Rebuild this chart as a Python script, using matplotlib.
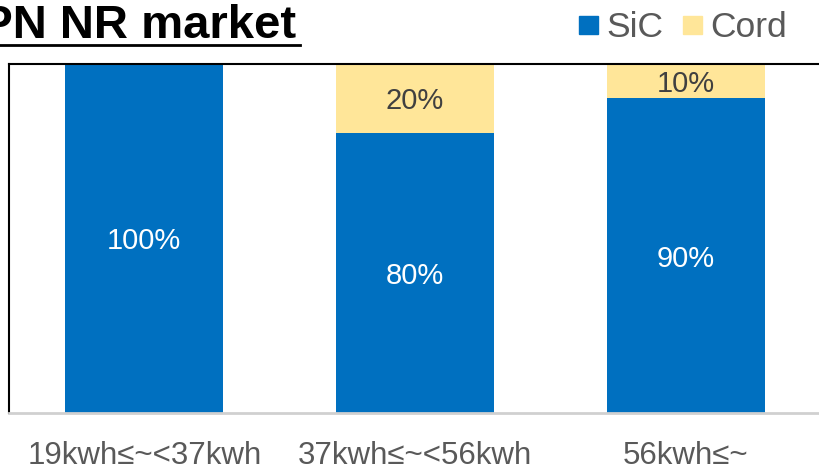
import matplotlib
matplotlib.use("Agg")
import matplotlib.pyplot as plt
from matplotlib.patches import Rectangle
from matplotlib.lines import Line2D
import numpy as np

plt.rcParams['font.family'] = ['Liberation Sans', 'DejaVu Sans']

categories = ["19kwh≤~<37kwh", "37kwh≤~<56kwh", "56kwh≤~"]
sic = [100, 80, 90]
cord = [0, 20, 10]
series_names = ["SiC", "Cord"]
title = "JPN NR market"

BLUE = "#0070C0"
YELLOW = "#FFE699"
GRAY = "#595959"

W, H = 820, 476
fig = plt.figure(figsize=(W / 100, H / 100), dpi=100)
ax = fig.add_axes([9 / W, (H - 413) / H, (821 - 9) / W, (413 - 63.5) / H])

x = np.arange(len(categories))
width = 0.584
ax.bar(x, sic, width, color=BLUE, zorder=2)
ax.bar(x, cord, width, bottom=sic, color=YELLOW, zorder=2)

for i in range(len(categories)):
    ax.text(x[i], sic[i] / 2, f"{sic[i]}%", ha="center", va="center_baseline",
            color="white", fontsize=21)
    if cord[i] > 0:
        ax.text(x[i], sic[i] + cord[i] / 2, f"{cord[i]}%", ha="center",
                va="center_baseline", color="#404040", fontsize=21)

ax.set_xlim(-0.5, 2.5)
ax.set_ylim(0, 100)
ax.set_xticks(x)
ax.set_xticklabels(categories, fontsize=22.5, color=GRAY)
ax.tick_params(axis="x", length=0, pad=20)
ax.set_yticks([])

ax.spines["right"].set_visible(False)
ax.spines["top"].set_color("black")
ax.spines["top"].set_linewidth(1.5)
ax.spines["left"].set_color("black")
ax.spines["left"].set_linewidth(1.5)
ax.spines["bottom"].set_color("#D0D0D0")
ax.spines["bottom"].set_linewidth(2)

# Title, underlined, partially running off the left edge
fig.text(296 / W, (H - 38) / H, title, fontsize=34, fontweight="bold",
         color="black", ha="right", va="baseline")
fig.add_artist(Line2D([0, 300 / W], [(H - 45) / H, (H - 45) / H],
                      color="black", linewidth=2, transform=fig.transFigure))

# Legend
for (x0, name, col, tx) in [(579, series_names[0], BLUE, 606),
                            (683, series_names[1], YELLOW, 710)]:
    fig.add_artist(Rectangle((x0 / W, (H - 34) / H), 19 / W, 18 / H,
                             transform=fig.transFigure, color=col))
    fig.text(tx / W, (H - 37) / H, name, fontsize=25.5, color=GRAY,
             ha="left", va="baseline")

fig.savefig("out.png", dpi=100)
